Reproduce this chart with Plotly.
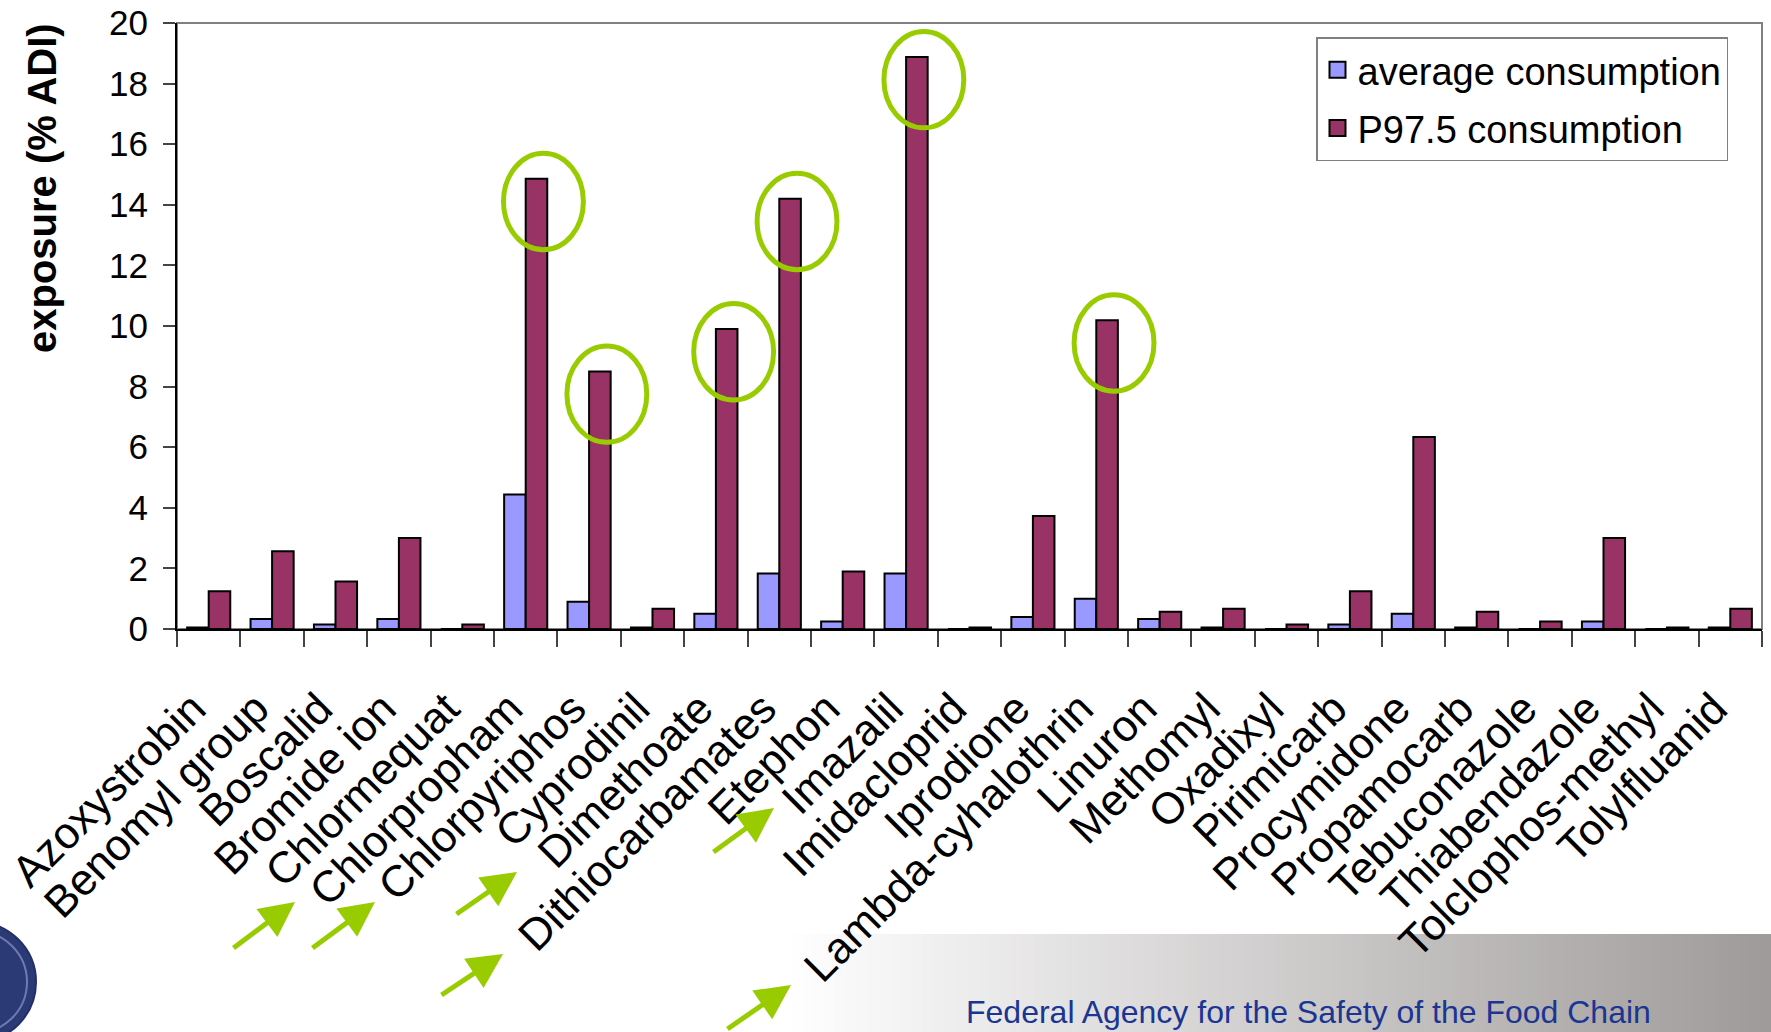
import plotly.graph_objects as go

# Pesticide residues and dietary exposure as % of the acceptable daily intake
pesticides = [
    "Azoxystrobin", "Benomyl group", "Boscalid", "Bromide ion", "Chlormequat",
    "Chlorpropham", "Chlorpyriphos", "Cyprodinil", "Dimethoate", "Dithiocarbamates",
    "Etephon", "Imazalil", "Imidacloprid", "Iprodione", "Lambda-cyhalothrin",
    "Linuron", "Methomyl", "Oxadixyl", "Pirimicarb", "Procymidone",
    "Propamocarb", "Tebuconazole", "Thiabendazole", "Tolclophos-methyl", "Tolylfluanid",
]
average_consumption = [
    0.05, 0.33, 0.15, 0.33, 0.0,
    4.44, 0.90, 0.05, 0.50, 1.83,
    0.25, 1.83, 0.0, 0.40, 1.00,
    0.33, 0.05, 0.0, 0.15, 0.50,
    0.05, 0.0, 0.25, 0.0, 0.05,
]
p975_consumption = [
    1.25, 2.57, 1.57, 3.00, 0.15,
    14.86, 8.50, 0.67, 9.90, 14.20,
    1.90, 18.88, 0.05, 3.73, 10.19,
    0.57, 0.67, 0.15, 1.25, 6.34,
    0.57, 0.25, 3.00, 0.05, 0.67,
]
highlighted = ["Chlorpropham", "Chlorpyriphos", "Dimethoate",
               "Dithiocarbamates", "Imazalil", "Lambda-cyhalothrin"]
y_ticks = list(range(0, 21, 2))

W, H = 1771, 1032
L, R, T, B = 177, 9, 23, 403
PW, PH = W - L - R, H - T - B

AVG_COLOR = "#9999FF"
P975_COLOR = "#993366"
GREEN = "#99CC00"
FONT = "Arial, Liberation Sans, sans-serif"


def px(xp):
    return (xp - L) / PW


def py(yp):
    return (H - B - yp) / PH


fig = go.Figure()
fig.add_trace(go.Bar(
    x=pesticides, y=average_consumption, name="average consumption",
    marker=dict(color=AVG_COLOR, line=dict(color="black", width=2)),
    showlegend=False,
))
fig.add_trace(go.Bar(
    x=pesticides, y=p975_consumption, name="P97.5 consumption",
    marker=dict(color=P975_COLOR, line=dict(color="black", width=2)),
    showlegend=False,
))
# legend entries with larger square swatches
for name, col in [("average consumption", AVG_COLOR), ("P97.5 consumption", P975_COLOR)]:
    fig.add_trace(go.Scatter(
        x=[None], y=[None], mode="markers", name=name, legendgroup=name,
        marker=dict(symbol="square", size=16, color=col, line=dict(color="black", width=2)),
    ))

shapes = []
# plot frame (grey top/right edge)
shapes.append(dict(type="rect", xref="paper", yref="paper", x0=0, x1=1, y0=0, y1=1,
                   line=dict(color="#808080", width=2), layer="below"))

# grey gradient band at the bottom right
n_strips = 90
x_start, x_end = 780, W
c0, c1 = (255, 255, 255), (160, 155, 155)
for i in range(n_strips):
    f = i / (n_strips - 1)
    col = tuple(round(c0[k] + (c1[k] - c0[k]) * f) for k in range(3))
    xa = x_start + (x_end - x_start) * i / n_strips
    xb = x_start + (x_end - x_start) * (i + 1) / n_strips + 1
    shapes.append(dict(type="rect", xref="paper", yref="paper",
                       x0=px(xa), x1=px(xb), y0=py(H + 2), y1=py(934),
                       fillcolor="rgb(%d,%d,%d)" % col, line=dict(width=0), layer="below"))

# logo disc at the bottom-left corner
cx, cy, r = -24, 982, 60
shapes.append(dict(type="circle", xref="paper", yref="paper",
                   x0=px(cx - r), x1=px(cx + r), y0=py(cy + r), y1=py(cy - r),
                   fillcolor="#2B3975", line=dict(color="#22306A", width=2), layer="above"))
r2 = 51
shapes.append(dict(type="circle", xref="paper", yref="paper",
                   x0=px(cx - r2), x1=px(cx + r2), y0=py(cy + r2), y1=py(cy - r2),
                   fillcolor="rgba(0,0,0,0)", line=dict(color="#6D7BAE", width=2), layer="above"))

# green ellipses around the highest exposures
for name in highlighted:
    i = pesticides.index(name)
    v = p975_consumption[i]
    xc, yc = i + 0.28, v - 0.75
    shapes.append(dict(type="circle", xref="x", yref="y",
                       x0=xc - 0.63, x1=xc + 0.63, y0=yc - 1.59, y1=yc + 1.59,
                       line=dict(color=GREEN, width=5), layer="above"))

annotations = []
# green arrows pointing at the highlighted substance names (head, tail in pixels)
arrows = [
    ((295, 902), (232, 949)),
    ((375, 902), (311, 949)),
    ((517, 872), (455, 915)),
    ((503, 954), (440, 996)),
    ((774, 808), (712, 853)),
    ((791, 985), (726, 1030)),
]
for (hx, hy), (tx, ty) in arrows:
    annotations.append(dict(
        x=px(hx), y=py(hy), xref="paper", yref="paper", text="",
        showarrow=True, arrowhead=2, arrowsize=1.4, arrowwidth=5, arrowcolor=GREEN,
        ax=tx - hx, ay=ty - hy, standoff=0,
    ))

annotations.append(dict(
    text="<b>exposure (% ADI)</b>", textangle=-90,
    x=px(42), y=py(188), xref="paper", yref="paper", showarrow=False,
    font=dict(family=FONT, size=40, color="black"),
    xanchor="center", yanchor="middle",
))
annotations.append(dict(
    text="Federal Agency for the Safety of the Food Chain",
    x=px(1308), y=py(1012), xref="paper", yref="paper", showarrow=False,
    font=dict(family=FONT, size=32, color="#1A3592"),
    xanchor="center", yanchor="middle",
))

fig.update_layout(
    width=W, height=H,
    margin=dict(l=L, r=R, t=T, b=B, pad=0, autoexpand=False),
    paper_bgcolor="white", plot_bgcolor="white",
    barmode="group", bargap=0.32, bargroupgap=0,
    font=dict(family=FONT, color="black"),
    shapes=shapes, annotations=annotations,
    legend=dict(
        x=px(1316), y=py(37), xanchor="left", yanchor="top",
        bgcolor="white", bordercolor="#808080", borderwidth=1.5,
        font=dict(family=FONT, size=38, color="black"),
        itemsizing="trace", tracegroupgap=6,
    ),
    xaxis=dict(
        type="category", categoryorder="array", categoryarray=pesticides,
        range=[-0.5, len(pesticides) - 0.5], automargin=False,
        showline=True, linecolor="black", linewidth=2,
        ticks="outside", tickson="boundaries", ticklen=16, tickwidth=1.5, tickcolor="#444",
        tickangle=-45, tickfont=dict(family=FONT, size=44, color="black"),
        ticklabelstandoff=34, ticklabelshift=-16,
        showgrid=False, zeroline=False,
    ),
    yaxis=dict(
        range=[0, 20], tickvals=y_ticks, ticktext=[str(t) for t in y_ticks],
        automargin=False,
        showline=True, linecolor="black", linewidth=2,
        ticks="outside", ticklen=12, tickwidth=1.5, tickcolor="#444",
        tickfont=dict(family=FONT, size=35, color="black"),
        ticklabelstandoff=8,
        showgrid=False, zeroline=False,
    ),
)

fig.write_html("out.html")
